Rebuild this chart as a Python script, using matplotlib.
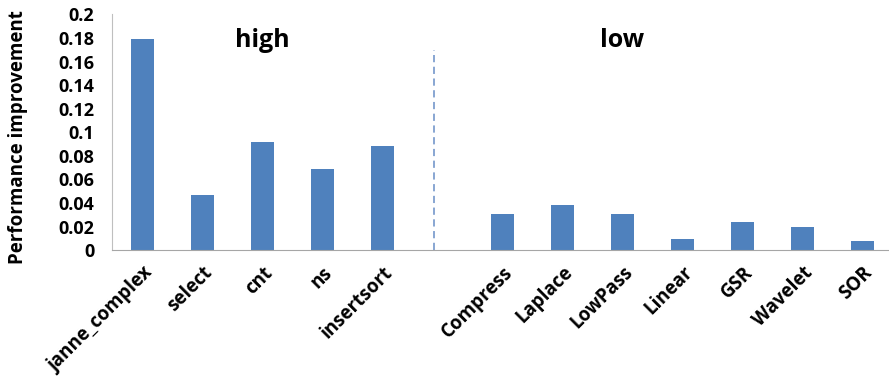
import numpy as np
import matplotlib.pyplot as plt

plt.rcParams['font.family'] = ['Open Sans', 'DejaVu Sans']

high_names = ['janne_complex', 'select', 'cnt', 'ns', 'insertsort']
high_vals = [0.179, 0.047, 0.092, 0.069, 0.088]
low_names = ['Compress', 'Laplace', 'LowPass', 'Linear', 'GSR', 'Wavelet', 'SOR']
low_vals = [0.031, 0.038, 0.031, 0.0095, 0.024, 0.020, 0.008]

# one empty slot between the two groups
names = high_names + [''] + low_names
vals = high_vals + [0] + low_vals
x = np.arange(len(names))

fig = plt.figure(figsize=(8.89, 3.79), dpi=100)
ax = fig.add_axes([0.1265, 0.340, 0.8775, 0.622])

bars = ax.bar(x, vals, width=0.38, color='#4F81BD')
ax.set_xlim(-0.5, len(names) - 0.5)
ax.set_ylim(0, 0.2)
ax.set_yticks(np.arange(0, 0.201, 0.02))
ax.set_yticklabels(['0', '0.02', '0.04', '0.06', '0.08', '0.1', '0.12',
                    '0.14', '0.16', '0.18', '0.2'], fontsize=13, fontweight='bold')
ax.set_xticks(x)
ax.set_xticklabels(names, rotation=45, ha='right', va='top',
                   rotation_mode='anchor', fontsize=13.5, fontweight='bold')
ax.tick_params(length=0)
ax.tick_params(axis='y', pad=13)
ax.tick_params(axis='x', pad=9)

for s in ['top', 'right']:
    ax.spines[s].set_visible(False)
ax.spines['left'].set_color('#BFBFBF')
ax.spines['bottom'].set_color('#A6A6A6')

# group separator
ax.plot([4.86, 4.86], [0, 0.17], ls=(0, (4, 2.5)), color='#7F9FCF', lw=1.3)
ax.text(2.0, 0.178, 'high', fontsize=18, fontweight='bold', ha='center', va='center')
ax.text(8.0, 0.178, 'low', fontsize=18, fontweight='bold', ha='center', va='center')

ax.set_ylabel('Performance improvement', fontsize=13.5, fontweight='bold')
ax.yaxis.set_label_coords(-0.108, 0.48)

fig.savefig('out.png', dpi=100)
